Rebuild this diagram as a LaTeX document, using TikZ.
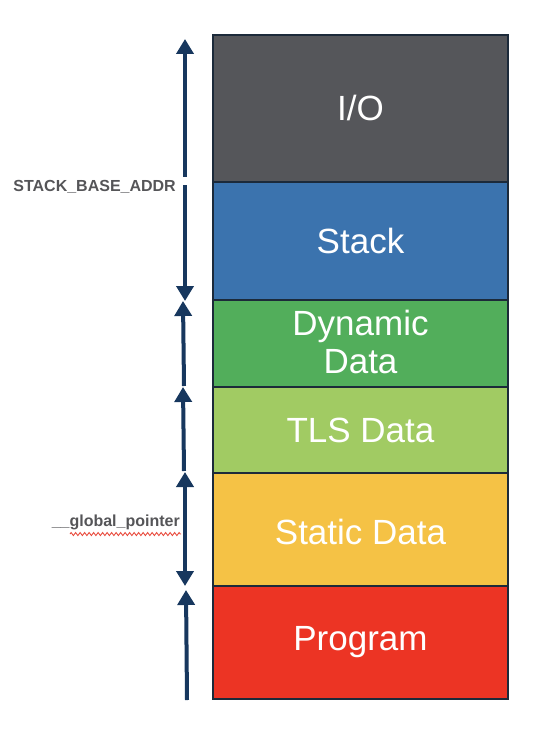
\documentclass[tikz,border=0pt]{standalone}
\usepackage{fontspec}
\setmainfont{Liberation Sans}
\usetikzlibrary{arrows.meta,decorations.pathmorphing}
\definecolor{ioC}{HTML}{55565A}
\definecolor{stackC}{HTML}{3B73AE}
\definecolor{dynC}{HTML}{52AE5B}
\definecolor{tlsC}{HTML}{A1CB63}
\definecolor{staticC}{HTML}{F5C245}
\definecolor{progC}{HTML}{EC3424}
\definecolor{edgeC}{HTML}{1C2A3A}
\definecolor{arrC}{HTML}{17375E}
\definecolor{lblC}{HTML}{555558}
\definecolor{squigC}{HTML}{E8483A}
\begin{document}
\begin{tikzpicture}[x=1pt,y=-1pt,
  seg/.style={draw=edgeC,line width=2.6pt},
  segtext/.style={text=white,font=\fontsize{35}{38}\selectfont,align=center,inner sep=0pt},
  arr/.style={draw=arrC,line width=4pt,-{Triangle[width=17pt,length=15pt]}},
  darr/.style={draw=arrC,line width=4pt,{Triangle[width=17pt,length=15pt]}-{Triangle[width=17pt,length=15pt]}},
  lbl/.style={text=lblC,font=\bfseries\fontsize{16}{18}\selectfont,inner sep=0pt}]
\useasboundingbox (0,0) rectangle (544,730);
% segments
\path[seg,fill=ioC] (213,35) rectangle (508,182);
\path[seg,fill=stackC] (213,182) rectangle (508,300);
\path[seg,fill=dynC] (213,300) rectangle (508,387);
\path[seg,fill=tlsC] (213,387) rectangle (508,473);
\path[seg,fill=staticC] (213,473) rectangle (508,586);
\path[seg,fill=progC] (213,586) rectangle (508,699);
\node[segtext] (io) at (360.5,108) {I/O};
\node[segtext] (stack) at (360.5,241) {Stack};
\node[segtext] (dyn) at (360.5,342) {Dynamic\\Data};
\node[segtext] (tls) at (360.5,430) {TLS Data};
\node[segtext] (static) at (360.5,532) {Static Data};
\node[segtext] (prog) at (360.5,642) {Program};
% arrow endpoints
\coordinate (a1s) at (185,177);
\coordinate (a1e) at (185,39);
\coordinate (a2s) at (185,185);
\coordinate (a2e) at (185,301);
\coordinate (a3s) at (184,386);
\coordinate (a3e) at (183,301);
\coordinate (a4s) at (184,471);
\coordinate (a4e) at (183,387);
\coordinate (a5s) at (185,472);
\coordinate (a5e) at (185,586);
\coordinate (a6s) at (187,700);
\coordinate (a6e) at (186,590);
\draw[arr] (a1s) -- (a1e);
\draw[arr] (a2s) -- (a2e);
\draw[arr] (a3s) -- (a3e);
\draw[arr] (a4s) -- (a4e);
\draw[darr] (a5s) -- (a5e);
\draw[arr] (a6s) -- (a6e);
% labels
\node[lbl,anchor=east] (sba) at (176,187) {STACK\_BASE\_ADDR};
\node[lbl,anchor=east] (gp) at (180,522) {\_\_global\_pointer};
\coordinate (w1) at (70,534);
\coordinate (w2) at (181,534);
\draw[squigC,line width=0.9pt,decorate,decoration={zigzag,amplitude=1.5pt,segment length=4.5pt}] (w1) -- (w2);
\end{tikzpicture}
\end{document}
